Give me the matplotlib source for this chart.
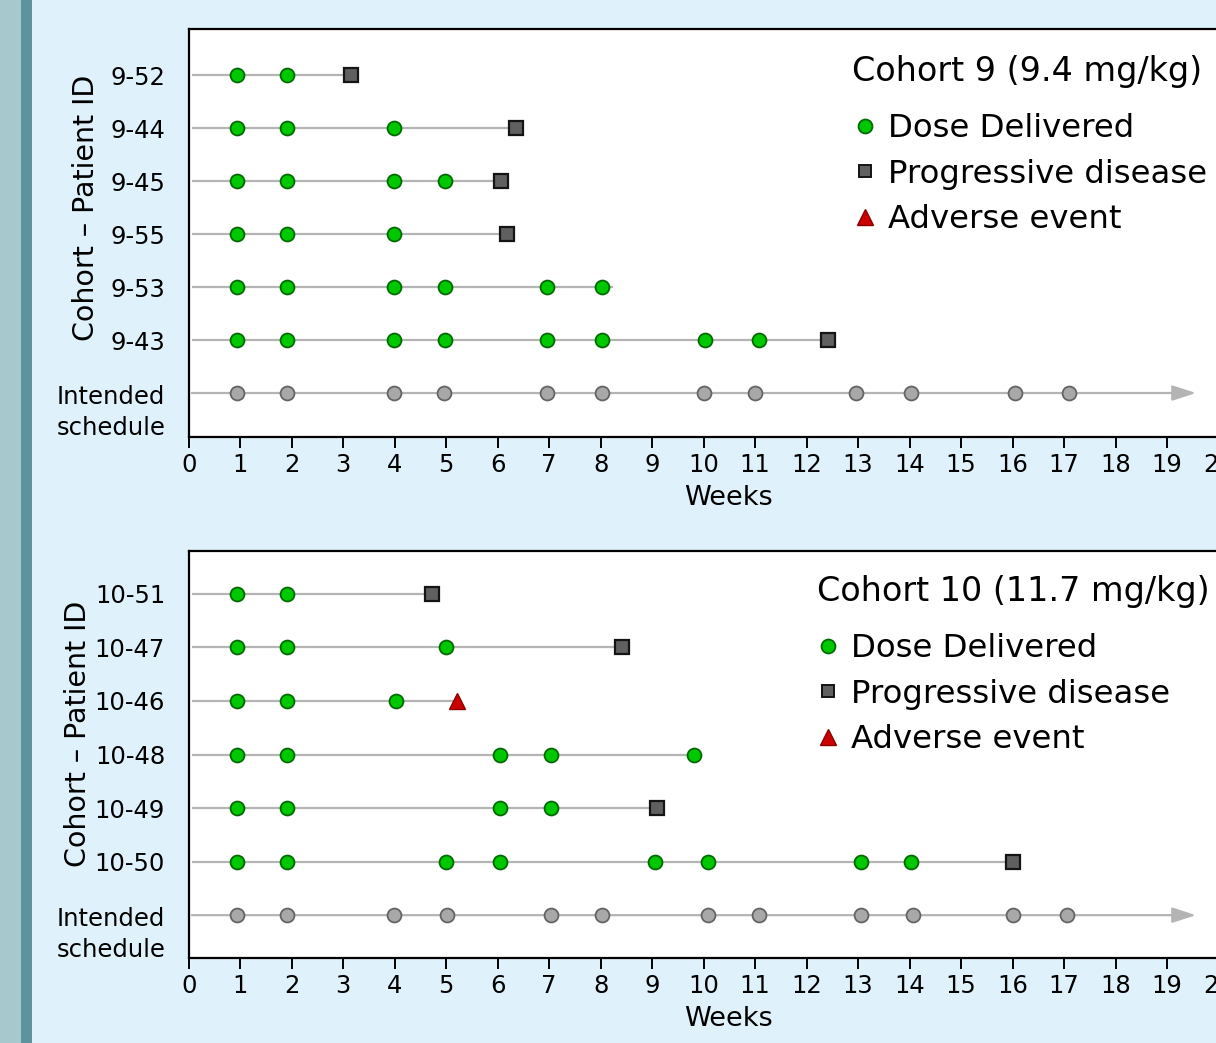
import matplotlib
matplotlib.use('Agg')
import matplotlib.pyplot as plt
from matplotlib.lines import Line2D
from matplotlib.patches import Rectangle

# ---------------- data ----------------
week_ticks = list(range(0, 21))

c9_title = "Cohort 9 (9.4 mg/kg)"
c9_patients = ["9-52", "9-44", "9-45", "9-55", "9-53", "9-43"]
c9_doses = [
    [0.94, 1.91],
    [0.94, 1.91, 3.99],
    [0.94, 1.91, 3.99, 4.97],
    [0.94, 1.91, 3.99],
    [0.94, 1.91, 3.99, 4.97, 6.96, 8.03],
    [0.94, 1.91, 3.99, 4.97, 6.96, 8.03, 10.02, 11.07],
]
c9_end_week = [3.15, 6.36, 6.06, 6.19, 8.24, 12.41]
c9_end_event = ["PD", "PD", "PD", "PD", None, "PD"]
c9_intended = [0.94, 1.91, 3.98, 4.96, 6.96, 8.03, 10.0, 10.99, 12.96, 14.02, 16.04, 17.09]

c10_title = "Cohort 10 (11.7 mg/kg)"
c10_patients = ["10-51", "10-47", "10-46", "10-48", "10-49", "10-50"]
c10_doses = [
    [0.94, 1.91],
    [0.94, 1.91, 5.00],
    [0.94, 1.91, 4.03],
    [0.94, 1.91, 6.04, 7.04, 9.82],
    [0.94, 1.91, 6.04, 7.04],
    [0.94, 1.91, 5.00, 6.04, 9.05, 10.08, 13.05, 14.02],
]
c10_end_week = [4.72, 8.41, 5.21, 9.82, 9.09, 16.00]
c10_end_event = ["PD", "PD", "AE", None, "PD", "PD"]
c10_intended = [0.94, 1.91, 3.99, 5.02, 7.04, 8.03, 10.08, 11.07, 13.05, 14.06, 16.00, 17.05]

line_start = 0.06
arrow_end = 19.56

legend_labels = ["Dose Delivered", "Progressive disease", "Adverse event"]

# ---------------- style ----------------
BG = '#DFF1FB'
LINE = '#B4B4B4'
GREEN_F, GREEN_E = '#00C800', '#006A00'
GRAY_F, GRAY_E = '#A8A8A8', '#646464'
SQ_F, SQ_E = '#606060', '#141414'
TRI_F, TRI_E = '#CC0000', '#8B0000'

plt.rcParams['font.family'] = ['DejaVu Sans']

W, H = 1216, 1043
fig = plt.figure(figsize=(W / 100, H / 100), dpi=100, facecolor=BG)

# left decorative stripes
fig.patches.append(Rectangle((0, 0), 21 / W, 1, transform=fig.transFigure,
                             facecolor='#A7C8CC', edgecolor='none', zorder=0))
fig.patches.append(Rectangle((21 / W, 0), 11 / W, 1, transform=fig.transFigure,
                             facecolor='#5D939C', edgecolor='none', zorder=0))

ax_left = 188.7
ax_right = 1267.6
ax_w_px = ax_right - ax_left

LEG_FS = 23.3
LEG_PX = LEG_FS * 100 / 72


def make_panel(top_px, bot_px, ylim, title, patients, doses, end_week, end_event,
               intended, ylabel_xy, title_pos, legend_pos):
    ax = fig.add_axes([ax_left / W, (H - bot_px) / H, ax_w_px / W, (bot_px - top_px) / H])
    ax.set_facecolor('white')
    n = len(patients)
    ys = list(range(n, 0, -1))
    for y, d, e, ev in zip(ys, doses, end_week, end_event):
        ax.plot([line_start, e], [y, y], color=LINE, lw=1.6, zorder=1,
                solid_capstyle='butt')
        ax.plot(d, [y] * len(d), 'o', ms=10, mfc=GREEN_F, mec=GREEN_E, mew=1.3, zorder=3)
        if ev == "PD":
            ax.plot([e], [y], 's', ms=9.5, mfc=SQ_F, mec=SQ_E, mew=1.6, zorder=3)
        elif ev == "AE":
            ax.plot([e], [y], '^', ms=12, mfc=TRI_F, mec=TRI_E, mew=1.0, zorder=3)
    # intended schedule
    ax.annotate('', xy=(arrow_end, 0), xytext=(line_start, 0),
                arrowprops=dict(arrowstyle='-|>,head_length=1.45,head_width=0.47',
                                color=LINE, lw=1.6, shrinkA=0, shrinkB=0,
                                mutation_scale=10), zorder=1)
    ax.plot(intended, [0] * len(intended), 'o', ms=10, mfc=GRAY_F, mec=GRAY_E,
            mew=1.3, zorder=3)

    ax.set_xlim(0, 20.95)
    ax.set_ylim(*ylim)
    ax.set_xticks(week_ticks)
    ax.set_xticklabels([str(t) for t in week_ticks])
    ax.set_yticks(ys)
    ax.set_yticklabels(patients)
    ax.tick_params(axis='x', length=7.7, width=1.4, pad=4, labelsize=17.5,
                   direction='out', color='black')
    ax.tick_params(axis='y', length=0, pad=17, labelsize=17.5)
    for s in ax.spines.values():
        s.set_linewidth(1.6)
        s.set_color('black')
    ax.set_xlabel('Weeks', fontsize=19.5)
    ax.xaxis.set_label_coords(0.5, -(485 - 437) / 408)
    ax.set_ylabel('Cohort – Patient ID', fontsize=20.5)
    ax.yaxis.set_label_coords(*ylabel_xy)

    ax.annotate('Intended\nschedule', xy=(0, 0), xycoords=('axes fraction', 'data'),
                xytext=(-17, -14), textcoords='offset points', ha='right',
                va='center', multialignment='center', fontsize=17.5, linespacing=1.38)

    ax.text(title_pos[0], title_pos[1], title, transform=ax.transAxes,
            fontsize=24, ha='left', va='center')
    handles = [
        Line2D([], [], ls='none', marker='o', ms=10, mfc=GREEN_F, mec=GREEN_E, mew=1.3),
        Line2D([], [], ls='none', marker='s', ms=8.5, mfc=SQ_F, mec=SQ_E, mew=1.4),
        Line2D([], [], ls='none', marker='^', ms=11, mfc=TRI_F, mec=TRI_E, mew=1.0),
    ]
    ax.legend(handles, legend_labels, loc='upper left', bbox_to_anchor=legend_pos,
              bbox_transform=ax.transAxes, frameon=False, fontsize=LEG_FS,
              borderpad=0, borderaxespad=0, handlelength=25 / LEG_PX,
              handletextpad=10.5 / LEG_PX, labelspacing=0.45)
    return ax


make_panel(29, 437, (-0.83, 6.87), c9_title, c9_patients, c9_doses, c9_end_week,
           c9_end_event, c9_intended,
           ylabel_xy=((100 - ax_left) / ax_w_px, (437 - 208) / 408),
           title_pos=((852 - ax_left) / ax_w_px, (437 - 71) / 408),
           legend_pos=((852.5 - ax_left) / ax_w_px, (437 - 113) / 408))

make_panel(551, 958, (-0.80, 6.80), c10_title, c10_patients, c10_doses, c10_end_week,
           c10_end_event, c10_intended,
           ylabel_xy=((92 - ax_left) / ax_w_px, (958 - 734) / 407),
           title_pos=((817 - ax_left) / ax_w_px, (958 - 591) / 407),
           legend_pos=((815.5 - ax_left) / ax_w_px, (958 - 633) / 407))

fig.savefig('out.png', dpi=100, facecolor=BG)
